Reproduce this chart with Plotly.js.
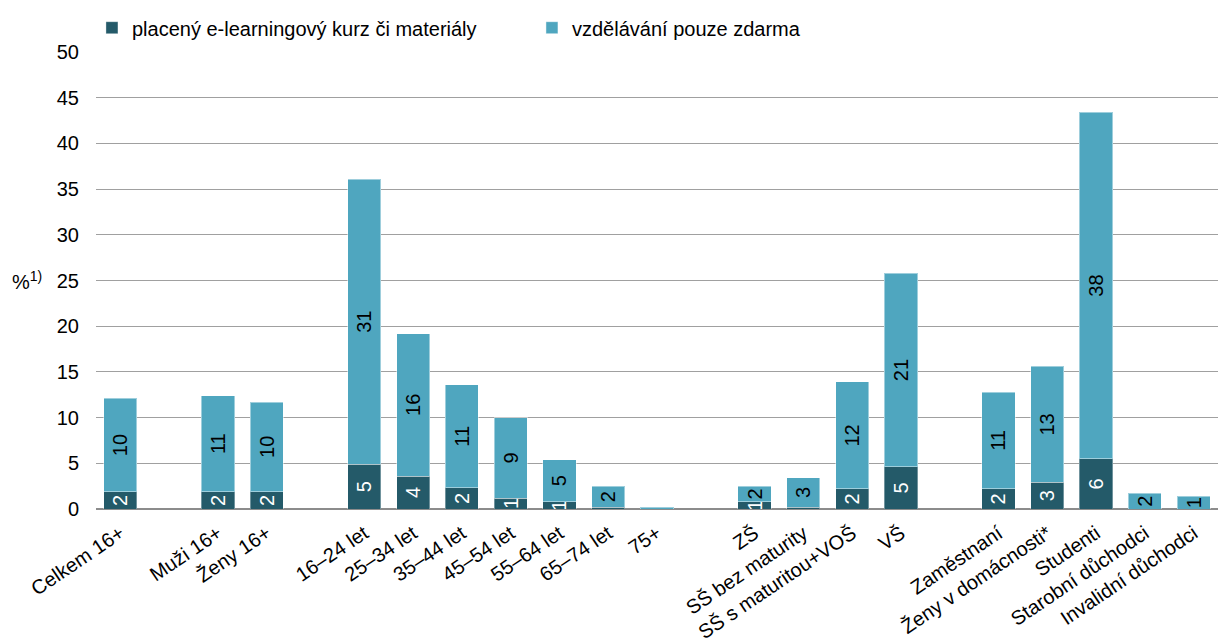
<!DOCTYPE html>
<html>
<head>
<meta charset="utf-8">
<script src="https://cdn.plot.ly/plotly-3.0.1.min.js"></script>
<style>html,body{margin:0;padding:0;background:#fff;}#chart{width:1218px;height:644px;}</style>
</head>
<body>
<div id="chart"></div>
<script>
// Categories (blank entries are gaps between groups)
const categories = ["Celkem 16+", " ", "Muži 16+", "Ženy 16+", "  ", "16–24 let", "25–34 let", "35–44 let", "45–54 let", "55–64 let", "65–74 let", "75+", "   ", "ZŠ", "SŠ bez maturity", "SŠ s maturitou+VOŠ", "VŠ", "    ", "Zaměstnaní", "Ženy v domácnosti*", "Studenti", "Starobní důchodci", "Invalidní důchodci"];
const paidValues = [1.9, null, 1.9, 1.9, null, 4.9, 3.6, 2.3, 1.2, 0.8, 0.2, 0.0, null, 0.8, 0.2, 2.2, 4.6, null, 2.2, 2.9, 5.5, 0.0, 0.0];
const freeValues = [10.2, null, 10.5, 9.8, null, 31.2, 15.6, 11.3, 8.8, 4.6, 2.3, 0.2, null, 1.7, 3.2, 11.7, 21.2, null, 10.6, 12.7, 37.9, 1.7, 1.4];
const seriesNames = ["placený e-learningový kurz či materiály", "vzdělávání pouze zdarma"];
const yTicks = [0, 5, 10, 15, 20, 25, 30, 35, 40, 45, 50];

const darkColor = "#245a69";
const lightColor = "#4fa6bf";
const fontFamily = "Liberation Sans, Arial, sans-serif";

function labels(vals) {
  return vals.map(v => (v === null || Math.round(v) === 0) ? "" : String(Math.round(v)));
}

const traces = [
  {
    type: "bar", name: seriesNames[0], x: categories, y: paidValues,
    marker: {color: darkColor, line: {color: "rgba(255,255,255,0.35)", width: 1}},
    text: labels(paidValues), textposition: "inside", insidetextanchor: "middle",
    textangle: -90, constraintext: "none", cliponaxis: true,
    textfont: {color: "#ffffff", size: 20, family: fontFamily},
    hoverinfo: "y+name"
  },
  {
    type: "bar", name: seriesNames[1], x: categories, y: freeValues,
    marker: {color: lightColor, line: {color: "rgba(255,255,255,0.45)", width: 1}},
    text: labels(freeValues), textposition: "inside", insidetextanchor: "middle",
    textangle: -90, constraintext: "none", cliponaxis: true,
    textfont: {color: "#000000", size: 20, family: fontFamily},
    hoverinfo: "y+name"
  }
];

const layout = {
  width: 1218, height: 644,
  margin: {l: 96, r: 0, t: 52, b: 135, autoexpand: false},
  paper_bgcolor: "#ffffff", plot_bgcolor: "#ffffff",
  barmode: "stack", bargap: 0.32,
  font: {family: fontFamily, size: 20, color: "#000"},
  showlegend: true,
  legend: {orientation: "h", xref: "container", x: 0.0755, xanchor: "left", yref: "container", y: 0.957, yanchor: "middle",
           entrywidth: 395, entrywidthmode: "pixels", traceorder: "normal",
           font: {size: 20, family: fontFamily}},
  xaxis: {type: "category", categoryorder: "array", categoryarray: categories,
          tickangle: -34, ticks: "", showgrid: false, zeroline: false, ticklabelstandoff: 8,
          showline: false, automargin: false, tickfont: {size: 20, family: fontFamily}},
  yaxis: {range: [0, 50], tickvals: yTicks, ticks: "", showgrid: true, automargin: false,
          gridcolor: "#a0a0a0", gridwidth: 1, zeroline: true, zerolinecolor: "#8c8c8c",
          zerolinewidth: 2, showline: false, ticklabelstandoff: 16,
          tickfont: {size: 20, family: fontFamily}},
  annotations: [{text: "%<sup>1)</sup>", xref: "paper", yref: "paper", x: -0.077, y: 0.5,
                 xanchor: "left", yanchor: "middle", showarrow: false,
                 font: {size: 20, family: fontFamily}}]
};

Plotly.newPlot("chart", traces, layout, {displayModeBar: false, staticPlot: true});
</script>
</body>
</html>
